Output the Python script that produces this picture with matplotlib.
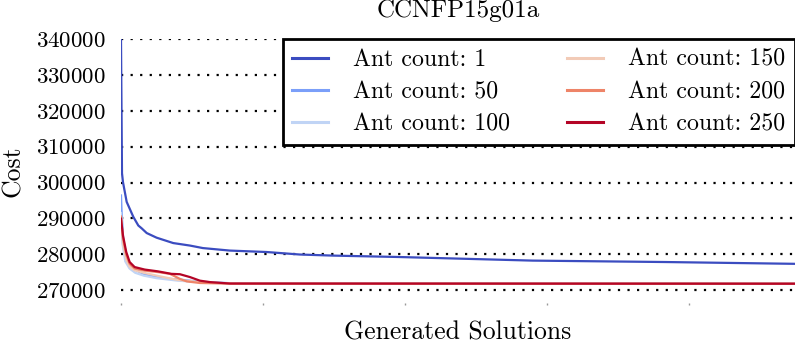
import matplotlib
matplotlib.use("Agg")
import matplotlib.pyplot as plt
import numpy as np

plt.rcParams["font.family"] = "serif"
plt.rcParams["font.serif"] = ["cmr10"]
plt.rcParams["axes.formatter.use_mathtext"] = True
plt.rcParams["mathtext.fontset"] = "cm"

title = "CCNFP15g01a"
ant_counts = [1, 50, 100, 150, 200, 250]

# Best cost found so far vs. number of generated solutions
x_ant1 = [0, 7, 14, 40, 87, 122, 146, 181, 251, 368, 486, 577, 767, 1026, 1260, 1493, 1964, 2900, 3372, 3844, 4750]
y_ant1 = [340000, 302600, 300100, 294600, 290400, 288000, 287200, 285900, 284600, 283100, 282400, 281700,
          281000, 280600, 279900, 279600, 279200, 278200, 278000, 277800, 277300]

x_ant50 = [0, 5, 16, 40, 87, 157, 204, 345, 437, 556, 767, 4750]
y_ant50 = [296400, 291300, 283800, 278200, 275900, 274500, 274000, 273100, 272800, 272300, 271900, 271750]

x_ant100 = [0, 10, 30, 60, 100, 160, 250, 400, 550, 800, 4750]
y_ant100 = [291500, 283000, 278000, 276000, 274800, 274000, 273300, 272600, 272200, 271800, 271750]

x_ant150 = [0, 14, 37, 61, 96, 160, 275, 400, 556, 767, 4750]
y_ant150 = [290400, 283000, 278500, 276500, 275500, 274800, 273800, 272800, 272200, 271800, 271750]

x_ant200 = [0, 14, 37, 61, 96, 167, 260, 345, 415, 463, 556, 800, 4750]
y_ant200 = [290500, 284500, 279800, 277300, 276000, 275400, 275000, 274500, 273100, 272400, 271950, 271750, 271750]

x_ant250 = [0, 14, 37, 61, 96, 167, 260, 355, 415, 486, 556, 627, 767, 4750]
y_ant250 = [289900, 285200, 280600, 277800, 276400, 275700, 275200, 274500, 274400, 273600, 272600, 272200,
            271800, 271750]

series = [
    (x_ant1, y_ant1),
    (x_ant50, y_ant50),
    (x_ant100, y_ant100),
    (x_ant150, y_ant150),
    (x_ant200, y_ant200),
    (x_ant250, y_ant250),
]

colors = plt.get_cmap("coolwarm")(np.linspace(0, 1, len(ant_counts)))

fig = plt.figure(figsize=(7.95, 3.5), dpi=100)
ax = fig.add_axes([0.1522, 0.1357, 0.8478, 0.752])

for (xs, ys), n, c in zip(series, ant_counts, colors):
    ax.plot(xs, ys, color=c, lw=1.6, label=f"Ant count: {n}")

ax.set_xlim(0, 4750)
ax.set_ylim(266500, 340000)
ax.set_yticks(np.arange(270000, 340001, 10000))
ax.set_xticks(np.arange(0, 4750, 1000))
ax.ticklabel_format(axis="y", style="plain", useOffset=False)
ax.tick_params(axis="x", labelbottom=False, length=1.5, width=1, color="#999999", direction="out")
ax.tick_params(axis="y", length=0, pad=11, labelsize=16.5)

for s in ax.spines.values():
    s.set_visible(False)

ax.yaxis.grid(True, color="black", linestyle=(0, (1, 3.3)), linewidth=1.6)
ax.set_axisbelow(True)

ax.set_title(title, fontsize=18, pad=16)
ax.set_ylabel("Cost", fontsize=18.5, labelpad=8)
ax.set_xlabel("Generated Solutions", fontsize=18.5, labelpad=12)

leg = ax.legend(loc="upper right", bbox_to_anchor=(1.0, 1.0), ncol=2, fontsize=17.2,
                frameon=True, fancybox=False, framealpha=1, edgecolor="black",
                borderaxespad=0, handlelength=1.5, handletextpad=1.05,
                labelspacing=0.42, columnspacing=2.4, borderpad=0.4)
leg.get_frame().set_linewidth(2.0)
for line in leg.get_lines():
    line.set_linewidth(2.2)

fig.savefig("out.png", dpi=100)
